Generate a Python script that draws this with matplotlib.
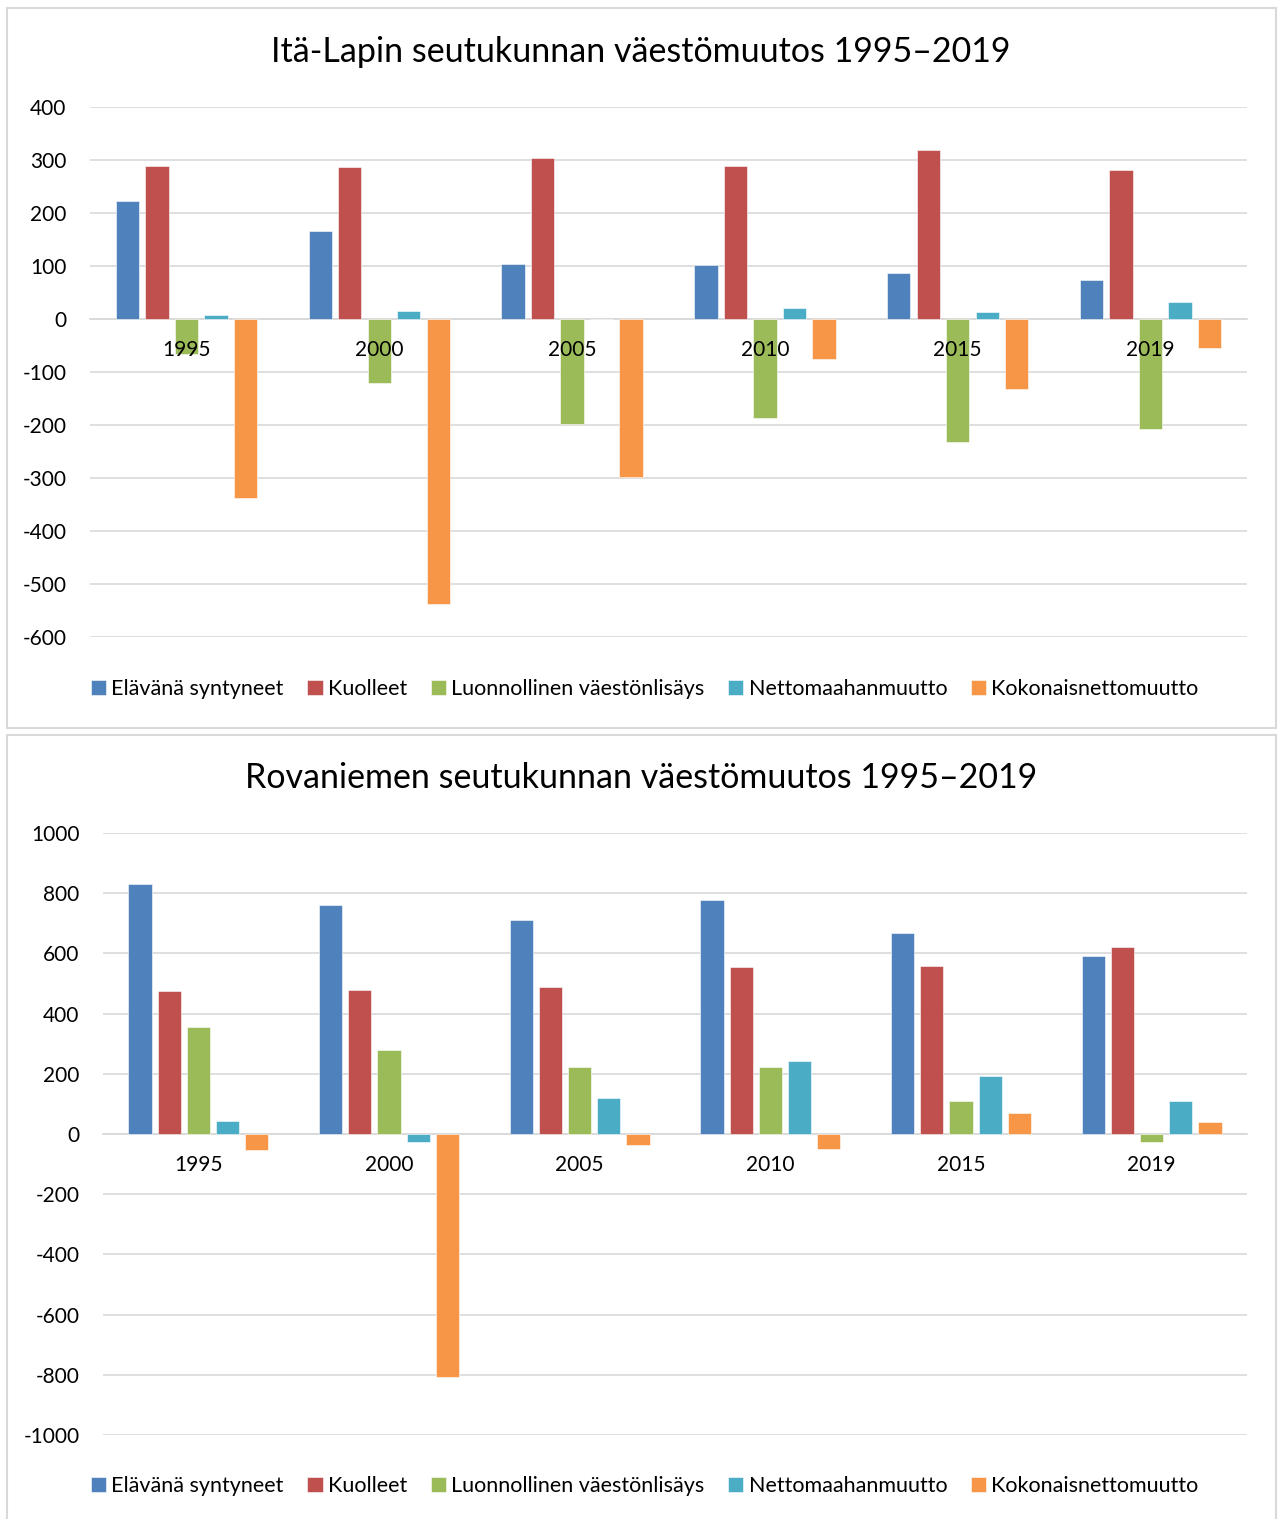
import matplotlib.pyplot as plt
import numpy as np
from matplotlib.patches import Rectangle

plt.rcParams['font.family'] = ['Lato', 'DejaVu Sans']
plt.rcParams['axes.unicode_minus'] = False

YEARS = ["1995", "2000", "2005", "2010", "2015", "2019"]
SERIES = ["Elävänä syntyneet", "Kuolleet", "Luonnollinen väestönlisäys",
          "Nettomaahanmuutto", "Kokonaisnettomuutto"]
COLORS = ["#4F81BD", "#C0504D", "#9BBB59", "#4BACC6", "#F79646"]

# Itä-Lappi
ita_syntyneet = [223, 166, 104, 101, 86, 74]
ita_kuolleet = [289, 287, 303, 288, 318, 282]
ita_luonnollinen = [-66, -121, -199, -187, -232, -208]
ita_nettomaahan = [7, 15, 0, 21, 13, 32]
ita_kokonais = [-338, -537, -298, -75, -133, -55]

# Rovaniemi
rov_syntyneet = [829, 760, 710, 776, 668, 593]
rov_kuolleet = [475, 480, 487, 554, 557, 620]
rov_luonnollinen = [354, 279, 223, 221, 110, -28]
rov_nettomaahan = [43, -25, 119, 242, 192, 109]
rov_kokonais = [-54, -806, -37, -50, 71, 40]

W, H = 1282, 1519
fig = plt.figure(figsize=(W / 100, H / 100), dpi=100)

# panel frames
for x0, y0, x1, y1 in [(7, 8, 1276, 728), (7, 735, 1276, 1530)]:
    fig.patches.append(Rectangle((x0 / W, 1 - y1 / H), (x1 - x0) / W, (y1 - y0) / H,
                                 transform=fig.transFigure, facecolor="white",
                                 edgecolor="#d9d9d9", linewidth=1.5, zorder=-5))


def draw(rect, data, ylim, step, title, title_y, legend_y):
    ax = fig.add_axes(rect, zorder=2)
    ax.patch.set_alpha(0)
    x = np.arange(len(YEARS))
    for i, (vals, color, name) in enumerate(zip(data, COLORS, SERIES)):
        ax.bar(x + (i - 2) * 0.153, vals, width=0.121, color=color, label=name,
               zorder=3, edgecolor="white", linewidth=0.4)
    ax.set_xlim(-0.5, len(YEARS) - 0.5)
    ax.set_ylim(*ylim)
    ax.set_yticks(np.arange(ylim[0], ylim[1] + 1, step))
    ax.yaxis.grid(True, color="#d9d9d9", linewidth=1.2, zorder=0)
    ax.set_axisbelow(True)
    for s in ["top", "right", "left"]:
        ax.spines[s].set_visible(False)
    ax.spines["bottom"].set_position(("data", 0))
    ax.spines["bottom"].set_color("#d9d9d9")
    ax.spines["bottom"].set_linewidth(1.2)
    ax.set_xticks(x)
    ax.set_xticklabels([])
    ax.tick_params(axis="x", length=0)
    ax.tick_params(axis="y", length=0, pad=17, labelsize=15)
    # category labels sit on top of the bars, just under the zero line
    for xi, year in zip(x, YEARS):
        ax.annotate(year, (xi, 0), xytext=(0, -15), textcoords="offset points",
                    ha="center", va="top", fontsize=15, zorder=10)
    fig.text(0.5, title_y, title, ha="center", va="center", fontsize=24.5)
    fig.legend(*ax.get_legend_handles_labels(), loc="center", ncol=5,
               bbox_to_anchor=(0.503, legend_y), frameon=False, fontsize=15.5,
               handlelength=0.7, handleheight=0.7, handletextpad=0.25,
               columnspacing=1.1)
    return ax


draw([90 / W, 1 - 637 / H, (1247 - 90) / W, 530 / H],
     [ita_syntyneet, ita_kuolleet, ita_luonnollinen, ita_nettomaahan, ita_kokonais],
     (-600, 400), 100, "Itä-Lapin seutukunnan väestömuutos 1995–2019",
     1 - 52 / H, 1 - 689 / H)

draw([103 / W, 1 - 1435 / H, (1247 - 103) / W, 602 / H],
     [rov_syntyneet, rov_kuolleet, rov_luonnollinen, rov_nettomaahan, rov_kokonais],
     (-1000, 1000), 200, "Rovaniemen seutukunnan väestömuutos 1995–2019",
     1 - 778 / H, 1 - 1486 / H)

fig.savefig("out.png", dpi=100, facecolor="white")
